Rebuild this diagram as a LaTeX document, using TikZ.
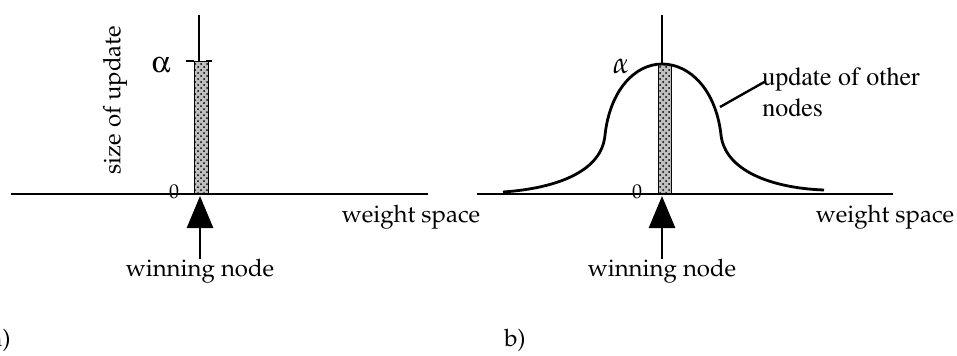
\documentclass[tikz,border=0pt]{standalone}
\usepackage[T1]{fontenc}
\usepackage{mathpazo}
\usepackage[Symbol]{upgreek}
\usetikzlibrary{arrows.meta,patterns}

\begin{document}
\begin{tikzpicture}[x=0.5pt,y=-0.5pt,
  axis/.style={line width=1.2pt},
  curve/.style={line width=1.4pt},
  bar/.style={preaction={fill=black!25},pattern=crosshatch dots,pattern color=black},
  winarrow/.style={line width=1.4pt,-{Triangle[length=16pt,width=13pt]}},
  lab/.style={font=\fontsize{12}{14}\selectfont,inner sep=0pt},
  zero/.style={font=\fontsize{10}{12}\selectfont,inner sep=0pt},
  alph/.style={font=\fontsize{15}{17}\selectfont,inner sep=0pt}]
  \useasboundingbox (0,0) rectangle (957,355);

  % a) only the winning node is updated
  \draw[bar] (194,61) rectangle (208,194);
  \draw[axis] (11,194) -- (428,194);
  \draw[axis] (199,15) -- (199,61);
  \draw[axis,dash pattern=on 4pt off 6pt on 3pt] (186,61) -- (212,61);

  \node[alph] (alphaa) at (161,65) {$\upalpha$};
  \node[lab,rotate=90] (sizelab) at (115,100) {size of update};
  \node[zero] (zeroa) at (174,192) {0};
  \node[lab] (weighta) at (411,217) {weight space};
  \node[lab,anchor=north] (wina) at (200,259) {winning node};
  \coordinate (tipa) at (200,196);
  \draw[winarrow] (wina.north) -- (tipa);
  \node[lab,anchor=east] (capa) at (11,340) {a)};

  % b) neighbours are updated too
  \draw[bar] (658,64) rectangle (671,194);
  \draw[axis] (477,194) -- (893,194);
  \draw[axis] (662,15) -- (662,64);
  \draw[curve] (503,192) .. controls (560,188) and (602,170) .. (605,135)
    .. controls (610,90) and (635,64) .. (662,64)
    .. controls (690,64) and (716,90) .. (721,135)
    .. controls (725,170) and (770,188) .. (824,190);

  \node[alph] (alphab) at (621,66) {$\alpha$};
  \node[zero] (zerob) at (637,192) {0};
  \node[lab] (weightb) at (885,217) {weight space};
  \node[lab,anchor=north] (winb) at (662,259) {winning node};
  \coordinate (tipb) at (662,196);
  \draw[winarrow] (winb.north) -- (tipb);

  \node[font=\fontfamily{ptm}\fontsize{13}{15.5}\selectfont,align=left,
    anchor=north west,inner sep=0pt] (otherlab) at (762,67) {update of other\\nodes};
  \coordinate (oncurve) at (720,107);
  \coordinate (leadend) at (766,81);
  \draw[line width=1.2pt] (oncurve) -- (leadend);
  \node[lab] (capb) at (515,340) {b)};
\end{tikzpicture}
\end{document}
